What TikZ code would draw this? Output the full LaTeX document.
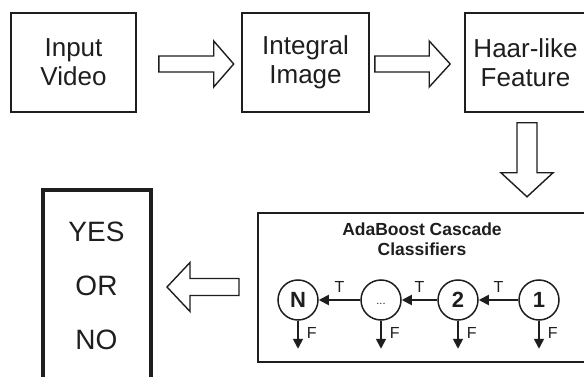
\documentclass[tikz,border=0pt]{standalone}
\usepackage{fontspec}
\setmainfont{Liberation Sans}
\usetikzlibrary{calc,arrows.meta}
\definecolor{ink}{HTML}{1E1E1E}

% hollow block arrow: #1 tail, #2 tip, #3 shaft half-width, #4 head half-width, #5 head length
\newcommand\blkarrow[5]{%
  \coordinate (blk-neck) at ($(#2)!#5!(#1)$);
  \draw[blk] ($(#1)!#3!90:(#2)$) -- ($(blk-neck)!#3!-90:(#1)$) -- ($(blk-neck)!#4!-90:(#1)$) -- (#2)
    -- ($(blk-neck)!#4!90:(#1)$) -- ($(blk-neck)!#3!90:(#1)$) -- ($(#1)!#3!-90:(#2)$) -- cycle;}

\begin{document}
\begin{tikzpicture}[x=1pt,y=-1pt,
  stage/.style={draw=ink, line width=1.6pt, minimum height=99pt, inner sep=0pt,
    align=center, text=ink, font=\fontsize{26}{29}\selectfont},
  answer/.style={draw=ink, line width=4pt, minimum width=108pt, minimum height=190pt,
    inner sep=0pt, align=center, text=ink, font=\fontsize{28}{54}\selectfont},
  casc/.style={draw=ink, line width=2pt, minimum width=328pt, minimum height=149pt, inner sep=0pt},
  cascttl/.style={align=center, text=ink, inner sep=0pt, font=\bfseries\fontsize{17.5}{20}\selectfont},
  stagec/.style={circle, draw=ink, line width=1.5pt, minimum size=40pt, inner sep=0pt,
    text=ink, font=\bfseries\fontsize{22}{22}\selectfont},
  blk/.style={draw=ink, line width=1.4pt, fill=white, line join=miter},
  tline/.style={draw=ink, line width=1.8pt, -{Triangle[length=10pt,width=10pt]}},
  tlab/.style={midway, anchor=south, inner sep=0pt, yshift=6.5pt, text=ink, font=\fontsize{16}{16}\selectfont},
  flab/.style={pos=0.45, anchor=west, inner sep=0pt, xshift=8pt, text=ink, font=\fontsize{16}{16}\selectfont}]
\useasboundingbox (0,0) rectangle (584,377);
\clip (0,0) rectangle (584,377);

% pipeline stages
\node[stage, minimum width=125pt] (inp)  at (73.5,62.5)  {Input\\Video};
\node[stage, minimum width=127pt] (img)  at (305.5,62.5) {Integral\\Image};
\node[stage, minimum width=121pt] (haar) at (525.5,62.5) {Haar-like\\Feature};
\node[answer] (res) at (96.5,285.5) {YES\\OR\\NO};
\node[casc] (ada) at (422,287.5) {};
\node[cascttl] (ttl) at (422,239) {AdaBoost Cascade\\Classifiers};

% cascade of classifier stages
\node[stagec] (cN) at (298,300) {N};
\node[stagec, font=\fontsize{11}{11}\selectfont, text height=8pt] (cD) at (381,300) {...};
\node[stagec] (c2) at (458,300) {2};
\node[stagec] (c1) at (539,300) {1};

\draw[tline] (c1) -- node[tlab] {T} (c2);
\draw[tline] (c2) -- node[tlab] {T} (cD);
\draw[tline] (cD) -- node[tlab] {T} (cN);

\foreach \c in {cN,cD,c2,c1} {
  \coordinate (f-\c) at ($(\c.south)+(0,28)$);
  \draw[tline] (\c.south) -- node[flab] {F} (f-\c);
}

% hollow arrows between the stages
\coordinate (a1t) at ($(inp.east)+(22,1.5)$);
\coordinate (a1h) at ($(img.west)+(-7.5,1.5)$);
\coordinate (a2t) at ($(img.east)+(5,1.5)$);
\coordinate (a2h) at ($(haar.west)+(-14,1.5)$);
\coordinate (a3t) at ($(haar.south)+(1.5,10)$);
\coordinate (a3h) at ($(haar.south)+(1.5,84)$);
\coordinate (a4t) at ($(ada.west)+(-18,-0.5)$);
\coordinate (a4h) at ($(res.east)+(14.5,1.5)$);

\blkarrow{a1t}{a1h}{8pt}{23pt}{20pt}
\blkarrow{a2t}{a2h}{8pt}{23pt}{21pt}
\blkarrow{a3t}{a3h}{10pt}{26pt}{24pt}
\blkarrow{a4t}{a4h}{8.5pt}{24.5pt}{23pt}
\end{tikzpicture}
\end{document}
